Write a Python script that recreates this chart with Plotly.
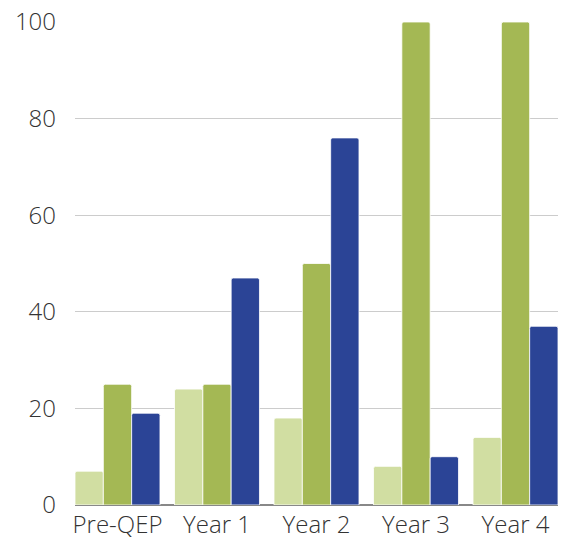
import plotly.graph_objects as go

categories = ["Pre-QEP", "Year 1", "Year 2", "Year 3", "Year 4"]
series_a = [7, 24, 18, 8, 14]
series_b = [25, 25, 50, 100, 100]
series_c = [19, 47, 76, 10, 37]
colors = ["#d1dea2", "#a4b854", "#2b4496"]
tick_vals = [0, 20, 40, 60, 80, 100]

fig = go.Figure()
for vals, col in zip([series_a, series_b, series_c], colors):
    fig.add_trace(go.Bar(
        x=categories, y=vals,
        marker=dict(color=col, line=dict(color="white", width=0.8), cornerradius=2),
        showlegend=False,
    ))

fig.update_layout(
    width=563, height=542,
    margin=dict(l=75, r=5, t=22, b=37),
    barmode="group",
    bargap=0.146,
    bargroupgap=0.0,
    plot_bgcolor="white",
    paper_bgcolor="white",
    font=dict(family="Open Sans", size=24, color="#333333", weight=300),
    xaxis=dict(
        range=[-0.427, 4.427],
        showgrid=False,
        showline=False,
        ticks="",
        ticklabelstandoff=3,
        automargin=False,
    ),
    yaxis=dict(
        range=[0, 100],
        tickvals=tick_vals,
        showgrid=True,
        gridcolor="#cccccc",
        gridwidth=1,
        zeroline=True,
        zerolinecolor="#888888",
        zerolinewidth=1.5,
        ticks="",
        ticklabelstandoff=18,
        automargin=False,
    ),
)

fig.write_html("out.html")
